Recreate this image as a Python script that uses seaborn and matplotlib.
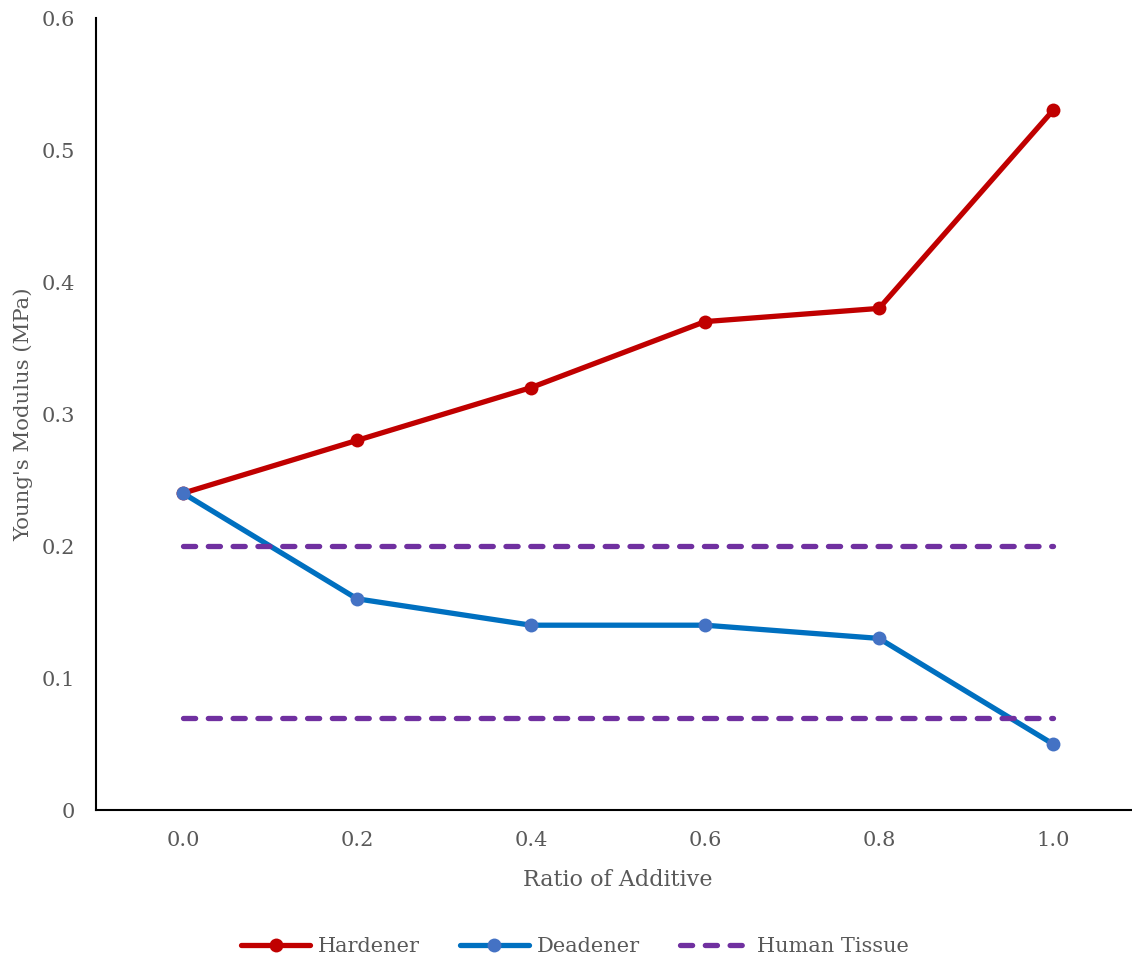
import matplotlib
matplotlib.use("Agg")
import matplotlib.pyplot as plt
import seaborn as sns
import pandas as pd

ratio = [0.0, 0.2, 0.4, 0.6, 0.8, 1.0]
hardener = [0.24, 0.28, 0.32, 0.37, 0.38, 0.53]
deadener = [0.24, 0.16, 0.14, 0.14, 0.13, 0.05]
tissue_upper = [0.20] * 6
tissue_lower = [0.07] * 6
y_ticks = [0, 0.1, 0.2, 0.3, 0.4, 0.5, 0.6]
y_tick_labels = ["0", "0.1", "0.2", "0.3", "0.4", "0.5", "0.6"]
x_tick_labels = ["0.0", "0.2", "0.4", "0.6", "0.8", "1.0"]

sns.set_style("white")
plt.rcParams["font.family"] = ["DejaVu Serif"]
text_color = "#595959"

fig = plt.figure(figsize=(11.32, 9.61), dpi=100)
ax = fig.add_axes([96 / 1132, 1 - 810 / 961, (1140 - 96) / 1132, (810 - 18) / 961])

df = pd.DataFrame({
    "ratio": ratio,
    "Hardener": hardener,
    "Deadener": deadener,
    "upper": tissue_upper,
    "lower": tissue_lower,
})

lw = 3.8
sns.lineplot(data=df, x="ratio", y="Hardener", ax=ax, color="#C00000", lw=lw,
             marker="o", markersize=10, markeredgewidth=0, label="Hardener",
             solid_capstyle="round")
sns.lineplot(data=df, x="ratio", y="Deadener", ax=ax, color="#0070C0", lw=lw,
             marker="o", markersize=10, markerfacecolor="#4472C4",
             markeredgewidth=0, label="Deadener", solid_capstyle="round")
sns.lineplot(data=df, x="ratio", y="upper", ax=ax, color="#7030A0", lw=lw,
             label="Human Tissue")
sns.lineplot(data=df, x="ratio", y="lower", ax=ax, color="#7030A0", lw=lw,
             label="_nolegend_")
for line in ax.get_lines()[2:]:
    line.set_linestyle((0, (2.3, 2.4)))
    line.set_dash_capstyle("round")

ax.set_xlim(-0.1, 1.1)
ax.set_ylim(0, 0.6)
ax.set_xticks(ratio)
ax.set_xticklabels(x_tick_labels)
ax.set_yticks(y_ticks)
ax.set_yticklabels(y_tick_labels)
ax.tick_params(axis="both", length=0, labelsize=15, colors=text_color)
ax.tick_params(axis="x", pad=15)
ax.tick_params(axis="y", pad=15)
ax.set_xlabel("Ratio of Additive", fontsize=16, color=text_color, labelpad=14)
ax.set_ylabel("Young's Modulus (MPa)", fontsize=15.3, color=text_color, labelpad=6)

for side in ["top", "right"]:
    ax.spines[side].set_visible(False)
for side in ["left", "bottom"]:
    ax.spines[side].set_color("black")
    ax.spines[side].set_linewidth(1.5)

handles, labels = ax.get_legend_handles_labels()
ax.legend_.remove()
leg = fig.legend(handles, labels, loc="center", bbox_to_anchor=(575 / 1132, 1 - 947 / 961),
                 ncol=3, frameon=False, fontsize=15, handlelength=3.3,
                 columnspacing=1.9, handletextpad=0.4)
for t in leg.get_texts():
    t.set_color(text_color)

fig.savefig("out.png", dpi=100)
